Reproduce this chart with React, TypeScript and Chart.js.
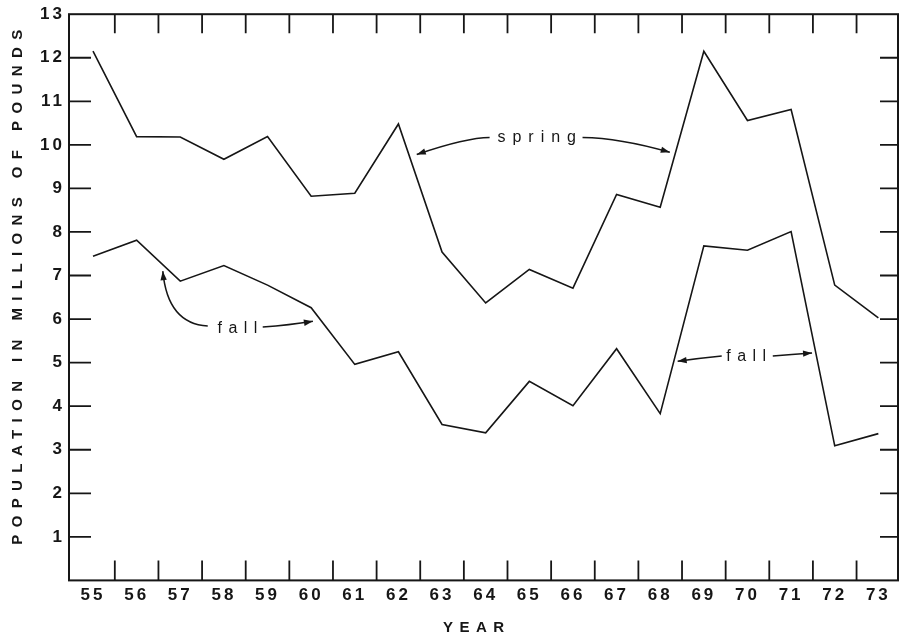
import { useEffect, useRef } from 'react';
import { Chart, registerables } from 'chart.js';

Chart.register(...registerables);

// ---- data ----
const YEARS = [55, 56, 57, 58, 59, 60, 61, 62, 63, 64, 65, 66, 67, 68, 69, 70, 71, 72, 73];
const SPRING = [12.15, 10.19, 10.18, 9.67, 10.19, 8.82, 8.89, 10.48, 7.54, 6.37, 7.14, 6.71, 8.86, 8.57, 12.15, 10.56, 10.81, 6.78, 6.03];
const FALL = [7.44, 7.81, 6.87, 7.23, 6.78, 6.26, 4.96, 5.25, 3.58, 3.39, 4.57, 4.01, 5.32, 3.83, 7.68, 7.58, 8.01, 3.09, 3.37];
const Y_TICKS = [1, 2, 3, 4, 5, 6, 7, 8, 9, 10, 11, 12, 13];
const X_MIN = 54.45;
const X_MAX = 73.45;
const Y_MIN = 0;
const Y_MAX = 13;

const X_TITLE = 'YEAR';
const Y_TITLE = 'POPULATION IN MILLIONS OF POUNDS';
const SPRING_LABEL = 'spring';
const FALL_LABEL = 'fall';

// annotation anchors, in data coordinates (year, value)
const SPRING_TEXT = { x: 65.17, y: 10.17 };
const SPRING_LEFT = { from: [64.09, 10.17], ctrl: [63.56, 10.17], tip: [62.42, 9.78] };
const SPRING_RIGHT = { from: [66.22, 10.17], ctrl: [67.07, 10.16], tip: [68.22, 9.83] };
const FALL1_TEXT = { x: 58.31, y: 5.79 };
const FALL1_LEFT = { from: [57.63, 5.84], ctrl: [56.71, 5.89], tip: [56.6, 7.1] };
const FALL1_RIGHT = { from: [58.89, 5.82], ctrl: [59.5, 5.86], tip: [60.04, 5.95] };
const FALL2_TEXT = { x: 69.97, y: 5.15 };
const FALL2_LEFT = { from: [69.41, 5.15], ctrl: [68.9, 5.1], tip: [68.4, 5.03] };
const FALL2_RIGHT = { from: [70.58, 5.15], ctrl: [71.0, 5.19], tip: [71.48, 5.22] };

const INK = '#161616';
const FONT = '"Liberation Sans", Arial, Helvetica, sans-serif';

function spacedText(ctx: CanvasRenderingContext2D, text: string, cx: number, cy: number, spacing: number) {
  (ctx as any).letterSpacing = spacing + 'px';
  const w = ctx.measureText(text).width - spacing;
  ctx.textAlign = 'left';
  ctx.textBaseline = 'middle';
  ctx.fillText(text, cx - w / 2, cy);
}

function arrowHead(ctx: CanvasRenderingContext2D, fx: number, fy: number, tx: number, ty: number) {
  const len = 9;
  const half = 3.2;
  const a = Math.atan2(ty - fy, tx - fx);
  const bx = tx - len * Math.cos(a);
  const by = ty - len * Math.sin(a);
  ctx.beginPath();
  ctx.moveTo(tx, ty);
  ctx.lineTo(bx + half * Math.sin(a), by - half * Math.cos(a));
  ctx.lineTo(bx - half * Math.sin(a), by + half * Math.cos(a));
  ctx.closePath();
  ctx.fill();
}

function curvedArrow(chart: any, spec: { from: number[]; ctrl: number[]; tip: number[] }) {
  const ctx: CanvasRenderingContext2D = chart.ctx;
  const xs = chart.scales.x;
  const ys = chart.scales.y;
  const p0 = [xs.getPixelForValue(spec.from[0]), ys.getPixelForValue(spec.from[1])];
  const c = [xs.getPixelForValue(spec.ctrl[0]), ys.getPixelForValue(spec.ctrl[1])];
  const p2 = [xs.getPixelForValue(spec.tip[0]), ys.getPixelForValue(spec.tip[1])];
  ctx.beginPath();
  ctx.moveTo(p0[0], p0[1]);
  ctx.quadraticCurveTo(c[0], c[1], p2[0], p2[1]);
  ctx.stroke();
  arrowHead(ctx, c[0], c[1], p2[0], p2[1]);
}

const spacingPlugin = {
  id: 'spacing',
  beforeLayout(chart: any) {
    chart.ctx.letterSpacing = '3px';
  },
  beforeDraw(chart: any) {
    chart.ctx.letterSpacing = '3px';
  },
};

const framePlugin = {
  id: 'frame',
  afterDatasetsDraw(chart: any) {
    const ctx: CanvasRenderingContext2D = chart.ctx;
    const { left, right, top, bottom } = chart.chartArea;
    const xs = chart.scales.x;
    const ys = chart.scales.y;
    ctx.save();
    ctx.strokeStyle = INK;
    ctx.fillStyle = INK;
    ctx.lineWidth = 2;
    ctx.strokeRect(left, top, right - left, bottom - top);
    // inward value ticks, left and right
    ctx.lineWidth = 1.8;
    Y_TICKS.forEach((v) => {
      if (v <= Y_MIN || v >= Y_MAX) return;
      const py = ys.getPixelForValue(v);
      ctx.beginPath();
      ctx.moveTo(left, py);
      ctx.lineTo(left + 22, py);
      ctx.moveTo(right - 18, py);
      ctx.lineTo(right, py);
      ctx.stroke();
    });
    // inward year ticks between years, top and bottom
    for (let i = 0; i < YEARS.length - 1; i++) {
      const px = xs.getPixelForValue((YEARS[i] + YEARS[i + 1]) / 2);
      ctx.beginPath();
      ctx.moveTo(px, bottom);
      ctx.lineTo(px, bottom - 20);
      ctx.moveTo(px, top);
      ctx.lineTo(px, top + 19);
      ctx.stroke();
    }

    // annotations
    ctx.lineWidth = 1.5;
    ctx.font = '16px ' + FONT;
    spacedText(ctx, SPRING_LABEL, xs.getPixelForValue(SPRING_TEXT.x), ys.getPixelForValue(SPRING_TEXT.y), 7);
    spacedText(ctx, FALL_LABEL, xs.getPixelForValue(FALL1_TEXT.x), ys.getPixelForValue(FALL1_TEXT.y), 6.5);
    spacedText(ctx, FALL_LABEL, xs.getPixelForValue(FALL2_TEXT.x), ys.getPixelForValue(FALL2_TEXT.y), 6.5);
    [SPRING_LEFT, SPRING_RIGHT, FALL1_LEFT, FALL1_RIGHT, FALL2_LEFT, FALL2_RIGHT].forEach((s) => curvedArrow(chart, s));

    // axis titles
    ctx.font = 'bold 15px ' + FONT;
    spacedText(ctx, X_TITLE, (left + right) / 2 - 10, 628, 6.5);
    ctx.translate(17.5, (top + bottom) / 2 - 10);
    ctx.rotate(-Math.PI / 2);
    spacedText(ctx, Y_TITLE, 0, 0, 7.4);
    ctx.restore();
  },
};

export default function App() {
  const ref = useRef<HTMLCanvasElement | null>(null);

  useEffect(() => {
    if (!ref.current) return;
    const chart = new Chart(ref.current, {
      type: 'line',
      data: {
        datasets: [
          {
            label: SPRING_LABEL,
            data: YEARS.map((yr, i) => ({ x: yr, y: SPRING[i] })),
            borderColor: INK,
            borderWidth: 1.6,
            pointRadius: 0,
            tension: 0,
            fill: false,
          },
          {
            label: FALL_LABEL,
            data: YEARS.map((yr, i) => ({ x: yr, y: FALL[i] })),
            borderColor: INK,
            borderWidth: 1.6,
            pointRadius: 0,
            tension: 0,
            fill: false,
          },
        ],
      },
      options: {
        animation: false,
        responsive: false,
        devicePixelRatio: 1,
        layout: { padding: { top: 14, right: 1, bottom: 0, left: 0 } },
        plugins: {
          legend: { display: false },
          tooltip: { enabled: false },
          title: { display: false },
        },
        scales: {
          x: {
            type: 'linear',
            min: X_MIN,
            max: X_MAX,
            grid: { display: false, drawTicks: false },
            border: { display: false },
            afterBuildTicks: (s: any) => {
              s.ticks = YEARS.map((v) => ({ value: v }));
            },
            afterFit: (s: any) => {
              s.height = 57.6;
            },
            ticks: {
              autoSkip: false,
              maxRotation: 0,
              padding: 5,
              color: INK,
              font: { family: FONT, size: 17, weight: 'bold' },
              callback: (v: any) => String(v),
            },
          },
          y: {
            type: 'linear',
            min: Y_MIN,
            max: Y_MAX,
            grid: { display: false, drawTicks: false },
            border: { display: false },
            afterBuildTicks: (s: any) => {
              s.ticks = Y_TICKS.map((v) => ({ value: v }));
            },
            afterFit: (s: any) => {
              s.width = 69;
            },
            ticks: {
              autoSkip: false,
              padding: 4,
              color: INK,
              font: { family: FONT, size: 17, weight: 'bold' },
              callback: (v: any) => String(v),
            },
          },
        },
      },
      plugins: [spacingPlugin, framePlugin],
    } as any);
    return () => chart.destroy();
  }, []);

  return (
    <div style={{ position: 'absolute', left: 0, top: 0, width: 899, height: 638, background: '#fff' }}>
      <canvas ref={ref} width={899} height={638} style={{ display: 'block', width: 899, height: 638 }} />
    </div>
  );
}
